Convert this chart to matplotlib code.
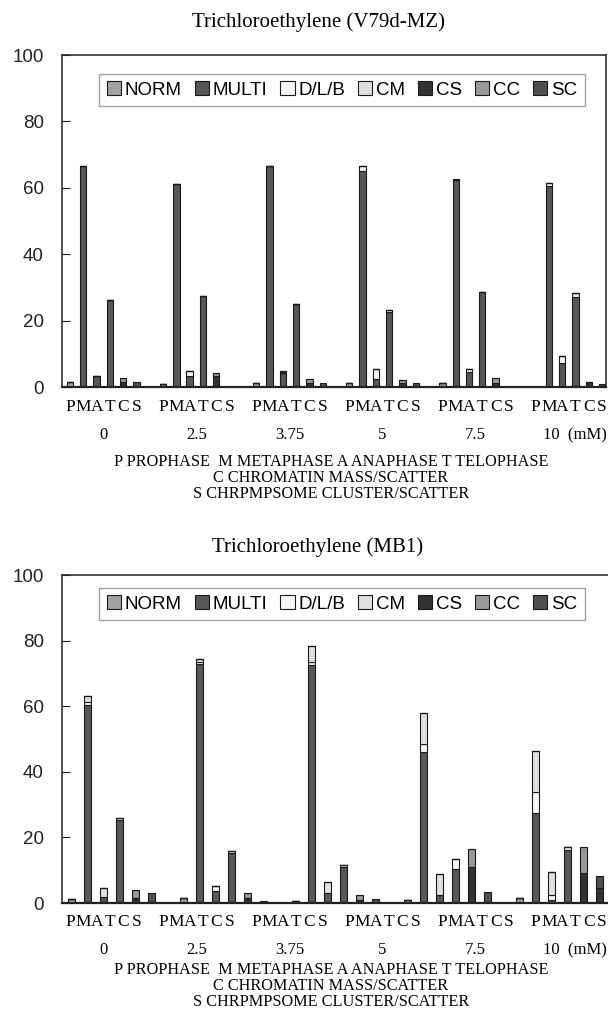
import numpy as np
import matplotlib
matplotlib.use("Agg")
import matplotlib.pyplot as plt
import matplotlib.transforms as mtransforms
from matplotlib.patches import Patch

plt.rcParams['font.family'] = ['Liberation Sans', 'DejaVu Sans']

# categories
phases = ["P", "M", "A", "T", "C", "S"]
concs = ["0", "2.5", "3.75", "5", "7.5", "10  (mM)"]
parts = ["NORM", "MULTI", "D/L/B", "CM", "CS", "CC", "SC"]
part_colors = ["#a2a2a2", "#575757", "#f7f7f7", "#e0e0e0", "#323232", "#999999", "#4f4f4f"]

# panel 1 : V79d-MZ  (rows = concentration, cols = P M A T C S)
norm_1 = [[1.4, 0, 0, 0, 0, 0], [0.9, 0, 0, 0, 0, 0], [1.1, 0, 0, 0, 0, 0],
          [1.1, 0, 0, 0, 0, 0], [1.3, 0, 0, 0, 0, 0], [0, 0, 0, 0, 0, 0]]
multi_1 = [[0, 66.5, 3.4, 26.1, 0, 0], [0, 61.0, 3.4, 27.5, 0, 0], [0, 66.5, 4.2, 25.0, 0, 0],
           [0, 65.2, 2.3, 22.5, 0, 0], [0, 62.5, 4.4, 28.5, 0, 0], [0, 60.5, 7.1, 27.2, 0, 0]]
dlb_1 = [[0, 0, 0, 0, 0, 0], [0, 0, 1.5, 0, 0, 0], [0, 0, 0, 0, 0, 0],
         [0, 1.5, 3.0, 0.8, 0, 0], [0, 0, 1.0, 0, 0, 0], [0, 0.8, 2.2, 1.0, 0, 0]]
cm_1 = [[0] * 6 for _ in range(6)]
cs_1 = [[0, 0, 0, 0, 1.5, 0], [0, 0, 0, 0, 3.3, 0], [0, 0, 0.7, 0, 1.2, 0],
        [0, 0, 0, 0, 1.2, 0], [0, 0, 0, 0, 1.3, 0], [0, 0, 0, 0, 1.4, 0]]
cc_1 = [[0, 0, 0, 0, 1.1, 0], [0, 0, 0, 0, 1.0, 0], [0, 0, 0, 0, 1.1, 0],
        [0, 0, 0, 0, 0.9, 0], [0, 0, 0, 0, 1.3, 0], [0, 0, 0, 0, 0, 0]]
sc_1 = [[0, 0, 0, 0, 0, 1.4], [0, 0, 0, 0, 0, 0], [0, 0, 0, 0, 0, 1.1],
        [0, 0, 0, 0, 0, 1.1], [0, 0, 0, 0, 0, 0], [0, 0, 0, 0, 0, 0.8]]

# panel 2 : MB1 (only five groups are visible, the rest is cut off)
norm_2 = [[1.2, 0, 0, 0, 0, 0], [1.5, 0, 0, 0, 0, 0], [0.5, 0, 0, 0, 0, 0],
          [0.8, 0, 0, 0, 0, 0], [1.6, 0, 0, 0, 0, 0]]
multi_2 = [[0, 60.5, 1.9, 25.3, 0, 0], [0, 72.8, 3.6, 15.3, 0, 0], [0, 72.5, 3.1, 11.0, 0, 0],
           [0, 46.0, 2.3, 10.4, 0, 0], [0, 27.4, 1.0, 16.2, 0, 0]]
dlb_2 = [[0, 0.8, 0, 0.7, 0, 0], [0, 0.7, 1.6, 0.7, 0, 0], [0, 1.0, 0, 0.5, 0, 0],
         [0, 2.5, 0, 2.9, 0, 0], [0, 6.4, 1.5, 1.0, 0, 0]]
cm_2 = [[0, 1.8, 2.6, 0, 0, 0], [0, 1.0, 0, 0, 0, 0], [0, 5.0, 3.2, 0, 0, 0],
        [0, 9.5, 6.4, 0, 0, 0], [0, 12.5, 7.0, 0, 0, 0]]
cs_2 = [[0, 0, 0, 0, 1.6, 0], [0, 0, 0, 0, 1.6, 0], [0, 0, 0, 0, 1.0, 0],
        [0, 0, 0, 0, 11.1, 0], [0, 0, 0, 0, 9.0, 4.5]]
cc_2 = [[0, 0, 0, 0, 2.4, 0], [0, 0, 0, 0, 1.5, 0], [0, 0, 0, 0, 1.3, 0],
        [0, 0, 0, 0, 5.3, 0], [0, 0, 0, 0, 8.2, 0]]
sc_2 = [[0, 0, 0, 0, 0, 2.9], [0, 0, 0, 0, 0, 0.7], [0, 0, 0, 0, 0, 1.1],
        [0, 0, 0, 0, 0, 3.5], [0, 0, 0, 0, 0, 3.7]]

notes = ["P PROPHASE  M METAPHASE A ANAPHASE T TELOPHASE",
         "C CHROMATIN MASS/SCATTER",
         "S CHRPMPSOME CLUSTER/SCATTER"]

W, H = 608, 1018
fig = plt.figure(figsize=(W / 100, H / 100), dpi=100)


def fx(px):
    return px / W


def fy(py):
    return 1 - py / H


XMIN, XMAX = -0.6, 40.3
ax1 = fig.add_axes([fx(62), fy(387), fx(544), (387 - 55) / H])
# second chart is wider than the page and gets cut at the right edge
ax2 = fig.add_axes([fx(62), fy(903), fx(16 * (XMAX - XMIN)), (903 - 575) / H])


def draw(ax, stacks, title, ytitle, ylegend):
    n = len(stacks[0])
    x = np.array([g * 7 + p for g in range(n) for p in range(6)])
    bottom = np.zeros(len(x))
    for vals, col in zip(stacks, part_colors):
        v = np.array(vals, dtype=float).ravel()
        ax.bar(x, v, 0.48, bottom=bottom, color=col, edgecolor="#1a1a1a", linewidth=0.8)
        bottom += v
    ax.set_xlim(XMIN, XMAX)
    ax.set_ylim(0, 100)
    ax.set_yticks(range(0, 101, 20))
    ax.tick_params(axis="y", direction="in", length=6, pad=13, labelsize=13.5, colors="#222")
    ax.tick_params(axis="x", bottom=False, labelbottom=False)
    for s in ax.spines.values():
        s.set_color("#222")
        s.set_linewidth(1.1)
    ax.spines["bottom"].set_linewidth(1.6)
    fig.text(fx(318), fy(ytitle), title, ha="center", va="center",
             family="Liberation Serif", fontsize=15)
    handles = [Patch(facecolor=c, edgecolor="#1a1a1a", linewidth=0.8) for c in part_colors]
    ax.legend(handles, parts, loc="center", bbox_to_anchor=(fx(342), fy(ylegend)),
              bbox_transform=fig.transFigure, ncol=7, fontsize=13.5, frameon=True,
              fancybox=False, edgecolor="#888", borderpad=0.4, handlelength=0.75,
              handleheight=0.75, handletextpad=0.2, columnspacing=0.7)


draw(ax1, [norm_1, multi_1, dlb_1, cm_1, cs_1, cc_1, sc_1],
     "Trichloroethylene (V79d-MZ)", 22, 90)
draw(ax2, [norm_2, multi_2, dlb_2, cm_2, cs_2, cc_2, sc_2],
     "Trichloroethylene (MB1)", 547, 604)

# label rows are laid out the same way under both charts
trans = mtransforms.blended_transform_factory(ax1.transData, fig.transFigure)
for y_ph, y_c, y_n in [(407, 435, 462), (922, 950, 970)]:
    for g in range(6):
        for p, letter in enumerate(phases):
            fig.text(g * 7 + p, fy(y_ph), letter, transform=trans, ha="center", va="center",
                     family="Liberation Serif", fontsize=12.5)
        cx = g * 7 + 2.5 if g < 5 else 38.0
        fig.text(cx, fy(y_c), concs[g], transform=trans, ha="center", va="center",
                 family="Liberation Serif", fontsize=12)
    for i, line in enumerate(notes):
        fig.text(fx(331), fy(y_n + 16 * i), line, ha="center", va="center",
                 family="Liberation Serif", fontsize=11.7)

fig.savefig("out.png", dpi=100)
